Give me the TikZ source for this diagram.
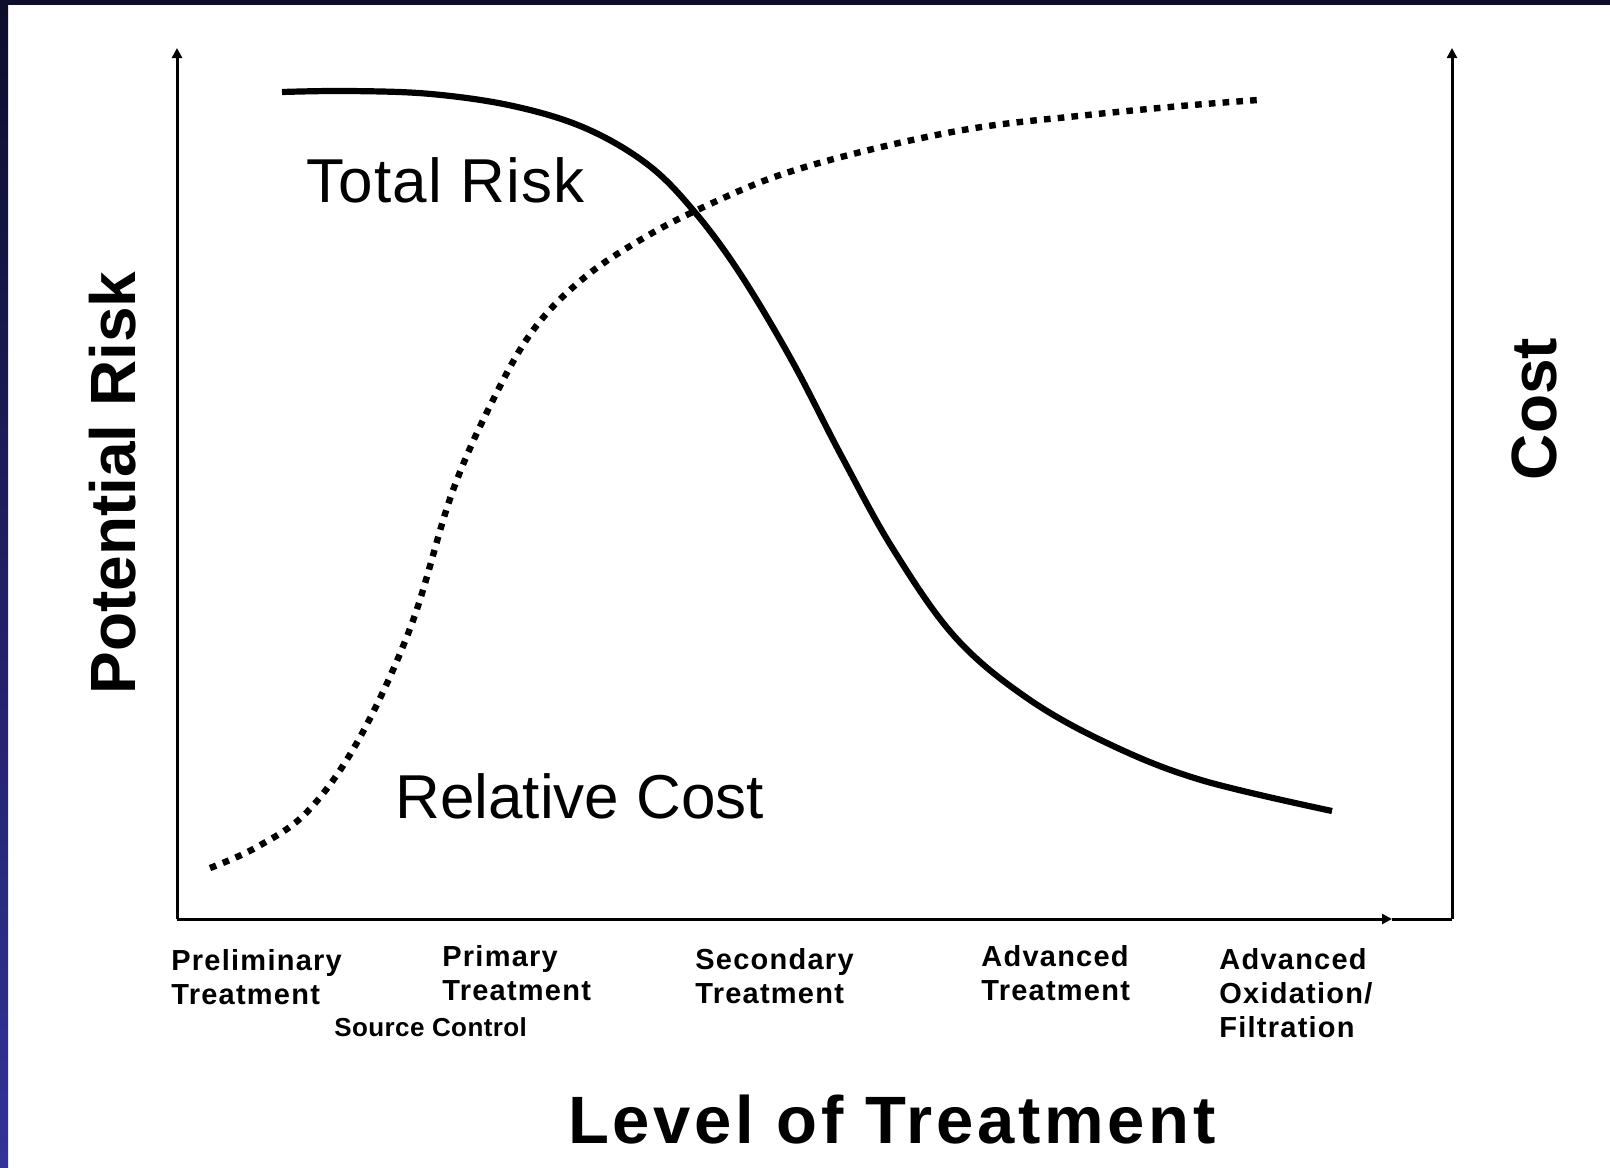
\documentclass[tikz,border=0pt]{standalone}
\usepackage{fontspec}
\setmainfont{Liberation Sans}
\usetikzlibrary{arrows.meta}
\definecolor{navy}{RGB}{13,13,45}
\definecolor{slideblue}{RGB}{51,51,153}
\tikzset{
    > = {Triangle[length=5pt, width=5pt]},
    axis/.style = {line width=1.5pt},
    risk/.style = {line width=3.1pt},
    cost/.style = {line width=3.2pt, dash pattern=on 3.3pt off 3.6pt},
    curvelabel/.style = {font=\fontsize{31}{36}\selectfont, anchor=base west, inner sep=0pt},
    axislabel/.style = {font=\bfseries\fontsize{32}{36}\selectfont, inner sep=0pt},
    levellabel/.style = {font=\bfseries\fontsize{14.5}{17}\selectfont\addfontfeature{LetterSpace=4.3},
        align=left, anchor=north west, inner sep=0pt}
}

\begin{document}
\begin{tikzpicture}[x=0.5pt, y=-0.5pt]
    \useasboundingbox (0,0) rectangle (1610,1167);
    \fill[white] (0,0) rectangle (1610,1167);
    \fill[navy] (0,0) rectangle (1610,5);
    \shade[top color=navy, bottom color=slideblue] (0,0) rectangle (8,1167);

    \coordinate (O) at (177,919);
    \coordinate (ytop) at (177,48);
    \coordinate (R) at (1452,919);
    \coordinate (rtop) at (1452,48);
    \coordinate (xtip) at (1392,919);

    \draw[axis, ->] (O) -- (ytop);
    \draw[axis, ->] (R) -- (rtop);
    \draw[axis, ->] (O) -- (xtip);
    \draw[axis] (xtip) -- (R);

    \draw[risk] plot[smooth, tension=0.6] coordinates {
        (282,92) (349,91) (431,94) (513,106) (585,128) (647,164) (693,210)
        (739,272) (791,359) (842,457) (893,549) (955,637) (1027,698)
        (1109,744) (1201,780) (1332,811)};
    \draw[cost] plot[smooth, tension=0.6] coordinates {
        (210,868) (257,847) (308,811) (359,739) (411,626) (452,493) (493,400)
        (534,329) (585,277) (647,236) (708,205) (780,175) (873,149)
        (975,128) (1078,116) (1181,106) (1258,100)};

    \node[curvelabel, font=\fontsize{31}{36}\selectfont\addfontfeature{LetterSpace=2}] (risk) at (306,202) {Total Risk};
    \node[curvelabel] (cost) at (395,818) {Relative Cost};

    \node[axislabel, rotate=90] (pr) at (113,483) {Potential Risk};
    \node[axislabel, rotate=90] (costaxis) at (1534,409) {Cost};
    \node[axislabel, font=\bfseries\fontsize{33.5}{38}\selectfont\addfontfeature{LetterSpace=5.5}] (level) at (892,1120) {Level of Treatment};

    \node[levellabel] (prelim) at (171,949) {Preliminary\\Treatment};
    \node[levellabel] (primary) at (442,945) {Primary\\Treatment};
    \node[levellabel, font=\bfseries\fontsize{13}{16}\selectfont\addfontfeature{LetterSpace=1.5}] (source) at (334,1017) {Source Control};
    \node[levellabel] (secondary) at (695,948) {Secondary\\Treatment};
    \node[levellabel] (advanced) at (981,945) {Advanced\\Treatment};
    \node[levellabel] (oxid) at (1219,948) {Advanced\\Oxidation/\\Filtration};
\end{tikzpicture}
\end{document}
